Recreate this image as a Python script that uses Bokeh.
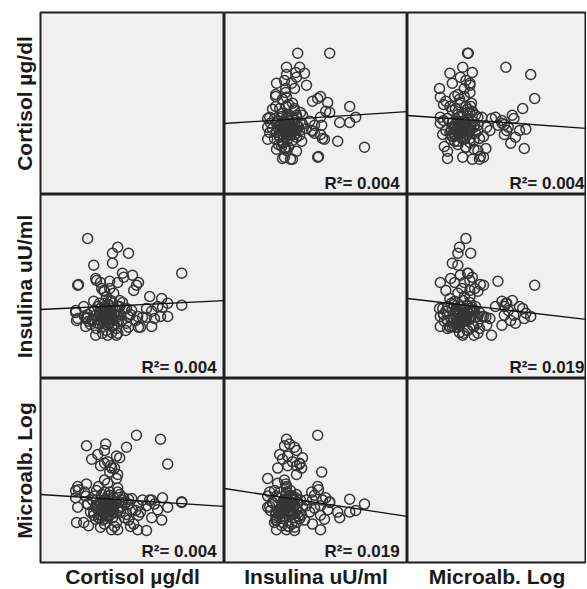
from bokeh.plotting import figure
from bokeh.layouts import gridplot
from bokeh.models import Range1d, Label, Title
from bokeh.embed import file_html
from bokeh.resources import INLINE

VARIABLES = ["Cortisol µg/dl", "Insulina uU/ml", "Microalb. Log"]

cortisol = [35.3, 35.3, 11.8, 24.0, 30.0, 31.8, 21.5, 11.5,
            16.3, 14.3, 12.8, 16.0, 19.0, 19.8, 16.8, 16.0, 19.3, 18.5, 17.8, 15.0, 17.5, 17.3, 19.0, 16.0, 16.8, 11.5,
            19.3, 18.0, 22.0, 18.0, 13.3, 13.8, 15.0, 9.3, 9.5, 20.5, 23.0, 24.5, 23.3, 19.3, 20.8,
            31.8, 30.3, 30.5, 29.3, 27.8, 27.8, 27.3, 28.5, 26.5, 26.5, 25.5, 25.0, 24.3,
            8.8, 9.3, 9.0, 10.8, 11.0, 11.3, 8.8,
            16.8, 17.5, 15.8, 18.0, 15.0, 18.8, 14.5, 16.3, 19.5, 15.5, 17.0, 13.8, 18.3, 20.0, 14.3,
            16.5, 21.0, 13.0, 17.5, 15.3, 19.0, 16.0, 22.0, 13.5, 17.3, 14.8, 20.5, 17.8, 12.5, 16.5,
            18.5, 15.5, 21.5, 14.0, 19.8, 17.0, 15.0, 22.8, 11.8, 18.3, 16.3, 19.3, 13.3, 21.3, 15.8,
            23.8, 17.8, 14.5, 16.8, 13.8, 19.3, 22.0, 24.5, 22.5, 17.3, 12.0, 20.3, 14.8, 18.0,
            15.3, 14.0, 16.0,
            16.0, 17.0, 16.5, 17.5, 15.5, 18.0, 16.8, 15.8, 17.3, 16.3, 18.5, 15.0, 17.8, 16.0, 17.0, 16.5]
insulina = [18.3, 26.3, 35.0, 23.3, 15.5, 18.8, 17.5, 15.0,
            16.3, 13.8, 14.5, 18.0, 15.8, 19.5, 17.0, 18.8, 18.0, 13.3, 19.3, 15.8, 18.0, 24.3, 10.8, 15.0, 13.3, 15.3,
            32.8, 31.3, 31.3, 28.8, 28.3, 25.0, 24.0, 23.3, 23.5, 26.3, 25.8, 24.0, 22.0, 24.0, 25.3,
            15.5, 20.0, 17.8, 18.0, 13.0, 16.8, 20.5, 15.0, 17.5, 15.3, 15.3, 12.8, 15.5,
            17.0, 15.0, 14.5, 18.0, 15.5, 13.0, 16.5,
            15.5, 16.3, 14.5, 15.0, 16.5, 17.0, 13.8, 17.5, 14.3, 13.0, 18.5, 15.8, 13.3, 16.0, 18.0,
            12.0, 17.5, 14.8, 19.5, 15.3, 12.5, 16.8, 15.5, 17.0, 14.0, 18.8, 19.0, 11.5, 13.5, 20.5,
            16.0, 11.3, 13.8, 12.5, 18.0, 15.0, 17.5, 17.0, 16.0, 21.3, 14.5, 15.5, 19.3, 12.0, 22.0,
            14.5, 13.0, 15.5, 10.8, 10.8, 11.3, 12.8, 12.8, 16.0, 22.5, 14.3, 14.5, 16.5, 17.5,
            22.5, 24.5, 21.8,
            15.0, 16.0, 14.0, 15.5, 16.5, 14.8, 17.0, 15.3, 13.8, 16.8, 15.8, 14.3, 16.3, 17.5, 14.5, 15.0]
microalb = [0.75, 0.76, 0.73, 1.59, 1.54, 1.23, 1.44, 1.46,
            1.48, 1.35, 1.29, 1.40, 1.33, 1.31, 1.26, 1.24, 1.10, 1.18, 1.18, 1.21, 1.21, 1.13, 1.05, 1.03, 0.99, 0.98,
            0.65, 0.63, 0.79, 0.56, 0.63, 0.54, 0.59, 0.95, 0.91, 0.75, 0.66, 0.71, 0.48, 0.41, 0.81,
            0.69, 0.53, 0.81, 0.66, 0.56, 0.78, 0.78, 0.73, 0.40, 0.71, 0.78, 0.63, 0.41,
            0.81, 0.69, 0.50, 0.50, 0.88, 0.83, 0.90,
            0.69, 0.65, 0.63, 0.73, 0.60, 0.75, 0.56, 0.78, 0.68, 0.53, 0.58, 0.71, 0.81, 0.63, 0.66,
            0.75, 0.56, 0.78, 0.69, 0.85, 0.50, 0.48, 0.73, 0.83, 0.88, 0.55, 0.78, 0.65, 0.63, 0.71,
            0.45, 0.70, 0.60, 0.90, 0.85, 0.79, 0.44, 0.80, 0.73, 0.63, 0.55, 0.93, 0.59, 0.75, 0.78,
            0.65, 0.41, 0.95, 0.83, 0.69, 0.88, 0.53, 0.59, 0.45, 0.84, 0.46, 0.70, 0.75, 0.71,
            0.68, 0.78, 0.88,
            0.66, 0.70, 0.62, 0.72, 0.64, 0.68, 0.60, 0.74, 0.67, 0.63, 0.71, 0.65, 0.69, 0.61, 0.73, 0.58]

SERIES = [cortisol, insulina, microalb]

# linear fit (y on x): (row variable, column variable)
FIT_PAIRS = [(0, 1), (0, 2), (1, 0), (1, 2), (2, 0), (2, 1)]
FIT_INTERCEPT = [17.75, 19.75, 17.25, 20.0, 0.85, 0.925]
FIT_SLOPE = [0.0656, -1.444, 0.0489, -2.333, -0.00326, -0.00765]
R_SQUARED = ["0.004", "0.004", "0.004", "0.019", "0.004", "0.019"]

X_RANGES = [(0, 46.0), (0, 45.75), (0, 2.2375)]
Y_RANGES = [(0, 45.5), (0, 46.0), (0, 2.3)]
COL_W = [224, 183, 179]
ROW_H = [194, 184, 210]

FONT = "Liberation Sans"
INK = "#1a1a1a"

rows = []
for i in range(3):
    row = []
    for j in range(3):
        p = figure(width=COL_W[j], height=ROW_H[i],
                   x_range=Range1d(*X_RANGES[j]), y_range=Range1d(*Y_RANGES[i]),
                   x_axis_type=None, y_axis_type=None, title=None,
                   toolbar_location=None, output_backend="svg",
                   min_border_left=40 if j == 0 else 0, min_border_right=0,
                   min_border_top=12 if i == 0 else 0,
                   min_border_bottom=26 if i == 2 else 0,
                   background_fill_color="#f0f0f0", border_fill_color="white",
                   outline_line_color="#1e1e1e", outline_line_width=2)
        if i != j:
            p.scatter(SERIES[j], SERIES[i], marker="circle", size=10,
                      fill_alpha=0, line_color="#363636", line_width=1.5)
            k = FIT_PAIRS.index((i, j))
            x0, x1 = X_RANGES[j]
            p.line([x0, x1], [FIT_INTERCEPT[k] + FIT_SLOPE[k] * x0,
                              FIT_INTERCEPT[k] + FIT_SLOPE[k] * x1],
                   line_color="#111111", line_width=1.3)
            xs, xe = X_RANGES[j]
            ys, ye = Y_RANGES[i]
            fx = 0.989 if j == 2 else 0.957
            p.add_layout(Label(x=xs + (xe - xs) * fx, y=ys + (ye - ys) * 0.062,
                               text="R²= " + R_SQUARED[k], text_align="right",
                               text_baseline="alphabetic", text_font=FONT,
                               text_font_size="17px", text_font_style="bold",
                               text_color=INK))
        if j == 0:
            p.add_layout(Title(text=VARIABLES[i], align="center", text_font=FONT,
                               text_font_size="21px", text_font_style="bold",
                               text_color=INK, standoff=9), "left")
        if i == 2:
            p.add_layout(Title(text=VARIABLES[j], align="center", text_font=FONT,
                               text_font_size="21px", text_font_style="bold",
                               text_color=INK, standoff=1), "below")
        row.append(p)
    rows.append(row)

grid = gridplot(rows, toolbar_location=None)

open("out.html", "w").write(file_html(grid, INLINE))
